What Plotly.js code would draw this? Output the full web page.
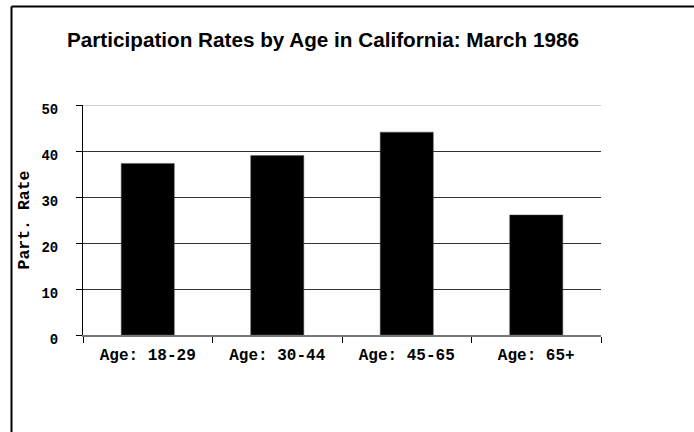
<!DOCTYPE html>
<html>
<head>
<meta charset="utf-8">
<script src="https://cdn.plot.ly/plotly-3.0.1.min.js"></script>
<style>html,body{margin:0;padding:0;background:#fff;}#chart{width:694px;height:432px;}</style>
</head>
<body>
<div id="chart"></div>
<script>
const categories = ["Age: 18-29", "Age: 30-44", "Age: 45-65", "Age: 65+"];
const rates = [37.3, 39.0, 44.1, 26.1];
const yTicks = [0, 10, 20, 30, 40, 50];
const titleText = "Participation Rates by Age in California: March 1986";
const yTitle = "Part. Rate";

const W = 694, H = 432;
const M = {l: 83, r: 93, t: 105, b: 97, pad: 0};
const pw = W - M.l - M.r, ph = H - M.t - M.b;
const px = v => (v - M.l) / pw;
const py = v => (H - M.b - v) / ph;

const mono = {family: "Liberation Mono, Courier New, monospace", color: "#000", weight: 700};
const b = s => "<b>" + s + "</b>";

const trace = {
  type: "bar",
  x: categories,
  y: rates,
  marker: {color: "#000", line: {color: "#555", width: 0.5}},
  hoverinfo: "skip"
};

const layout = {
  width: W, height: H,
  margin: M,
  paper_bgcolor: "#fff",
  plot_bgcolor: "#fff",
  showlegend: false,
  bargap: 0.59,
  title: {
    text: b(titleText),
    font: {family: "Liberation Sans, Arial, sans-serif", size: 20.7, color: "#000", weight: 700},
    xref: "container", x: 323 / W, xanchor: "center",
    yref: "container", y: 1 - 40 / H, yanchor: "middle"
  },
  xaxis: {
    type: "category",
    tickvals: categories,
    ticktext: categories.map(b),
    tickson: "boundaries",
    ticks: "outside", ticklen: 6, tickcolor: "#000", tickwidth: 1,
    showline: true, linecolor: "#777", linewidth: 1.5,
    showgrid: false, zeroline: false,
    tickfont: Object.assign({size: 16}, mono),
    ticklabelstandoff: 4,
    fixedrange: true
  },
  yaxis: {
    range: [0, 50],
    tickvals: yTicks,
    ticktext: yTicks.map(v => b(String(v))),
    ticks: "outside", ticklen: 6, tickcolor: "#000", tickwidth: 1,
    showline: true, linecolor: "#000", linewidth: 1,
    showgrid: true, gridcolor: "#333", gridwidth: 1,
    zeroline: false,
    tickfont: Object.assign({size: 14}, mono),
    ticklabelstandoff: 15,
    ticklabelshift: 4,
    title: {text: b(yTitle), font: Object.assign({size: 16.5}, mono), standoff: 7},
    fixedrange: true
  },
  shapes: [
    {type: "line", xref: "paper", yref: "y", x0: 0, x1: 1, y0: 50, y1: 50,
     line: {color: "#cfcfcf", width: 2}, layer: "above"},
    {type: "line", xref: "paper", yref: "paper", x0: px(11.5), x1: px(11.5), y0: py(6.5), y1: py(H + 10),
     line: {color: "#000", width: 2}},
    {type: "line", xref: "paper", yref: "paper", x0: px(11.5), x1: px(W + 10), y0: py(6.5), y1: py(6.5),
     line: {color: "#000", width: 2}}
  ]
};

Plotly.newPlot("chart", [trace], layout, {staticPlot: true, displayModeBar: false});
</script>
</body>
</html>
